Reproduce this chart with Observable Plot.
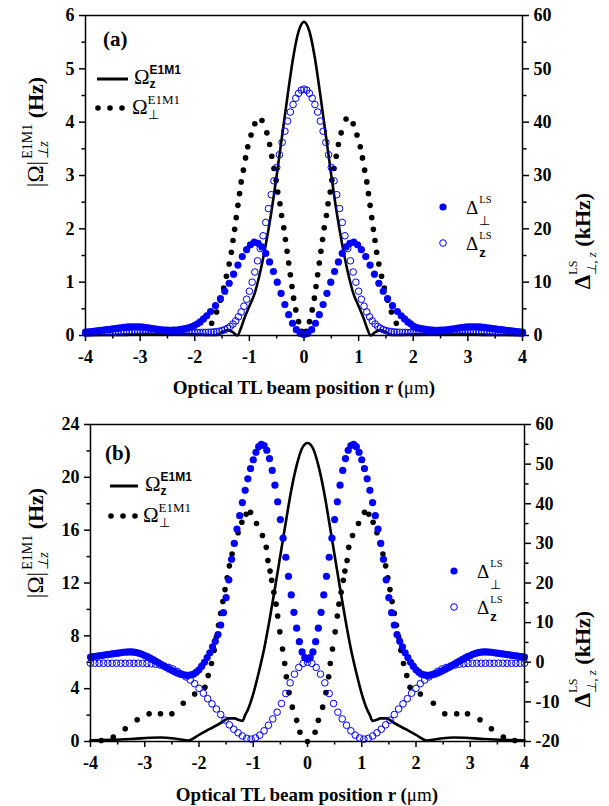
<!DOCTYPE html>
<html><head><meta charset="utf-8">
<script src="https://cdn.jsdelivr.net/npm/d3@7"></script>
<script src="https://cdn.jsdelivr.net/npm/@observablehq/plot@0.6"></script>
<style>
body{margin:0;background:#fff;}
#wrap{position:relative;width:609px;height:806px;overflow:hidden;background:#fff;}
.panel{position:absolute;left:0;}
</style></head><body><div id="wrap"><div id="pa" class="panel" style="top:0"></div><div id="pb" class="panel" style="top:405px"></div></div>
<script>
// ---------------- tick values ----------------
const xTicks = [-4,-3,-2,-1,0,1,2,3,4];
const xMinor = [-3.5,-2.5,-1.5,-0.5,0.5,1.5,2.5,3.5];
const aLeftTicks = [0,1,2,3,4,5,6];
const aLeftMinor = [0.5,1.5,2.5,3.5,4.5,5.5];
const aRightTicks = [0,10,20,30,40,50,60];
const aRightMinor = [5,15,25,35,45,55];
const bLeftTicks = [0,4,8,12,16,20,24];
const bLeftMinor = [2,6,10,14,18,22];
const bRightTicks = [-20,-10,0,10,20,30,40,50,60];
const bRightMinor = [-15,-5,5,15,25,35,45,55];

// ---------------- panel (a) ----------------
// Omega_z^E1M1 (solid line), Hz
const aOmegaZx = [-4,-3.5,-3,-2.5,-2,-1.7,-1.6,-1.5,-1.4,-1.3,-1.22,-1.15,-1.1,-1.0,-0.9,-0.8,-0.7,-0.6,-0.5,-0.4,-0.3,-0.2,-0.1,0,0.1,0.2,0.3,0.4,0.5,0.6,0.7,0.8,0.9,1.0,1.1,1.15,1.22,1.3,1.4,1.5,1.6,1.7,2,2.5,3,3.5,4];
const aOmegaZy = [0.01,0.01,0.02,0.03,0.02,0.01,0.01,0.06,0.1,0.06,0.0,0.15,0.3,0.55,0.8,1.2,1.7,2.3,3.0,3.75,4.5,5.2,5.7,5.88,5.7,5.2,4.5,3.75,3.0,2.3,1.7,1.2,0.8,0.55,0.3,0.15,0.0,0.06,0.1,0.06,0.01,0.01,0.02,0.03,0.02,0.01,0.01];
// Omega_perp^E1M1 (black dots), Hz
const aOmegaPx = [-1.69,-1.6,-1.53,-1.47,-1.42,-1.37,-1.33,-1.3,-1.27,-1.24,-1.21,-1.18,-1.15,-1.11,-1.07,-1.03,-0.97,-0.9,-0.77,-0.68,-0.63,-0.59,-0.55,-0.51,-0.48,-0.44,-0.41,-0.37,-0.34,-0.31,-0.28,-0.25,-0.22,-0.19,-0.15,-0.1,-0.04,
  0.04,0.1,0.15,0.19,0.22,0.25,0.28,0.31,0.34,0.37,0.41,0.44,0.48,0.51,0.55,0.59,0.63,0.68,0.77,0.9,0.97,1.03,1.07,1.11,1.15,1.18,1.21,1.24,1.27,1.3,1.33,1.37,1.42,1.47,1.53,1.6,1.69];
const aOmegaPy = [0.23,0.44,0.66,0.89,1.11,1.34,1.56,1.78,1.99,2.21,2.44,2.66,2.88,3.1,3.33,3.54,3.76,3.97,4.03,3.8,3.58,3.36,3.13,2.91,2.69,2.47,2.25,2.02,1.8,1.58,1.36,1.14,0.92,0.7,0.48,0.26,0.08,
  0.08,0.26,0.48,0.7,0.92,1.14,1.36,1.58,1.8,2.02,2.25,2.47,2.69,2.91,3.13,3.36,3.58,3.8,4.06,3.97,3.76,3.54,3.33,3.1,2.88,2.66,2.44,2.21,1.99,1.78,1.56,1.34,1.11,0.89,0.66,0.44,0.23];
// Delta_perp^LS (blue filled dots), kHz: left tail on 0.05 grid from -4, centre pairs, right tail on 0.05 grid from 2
const aDpTailL = [0.65,0.7,0.75,0.8,0.86,0.92,0.98,1.04,1.1,1.17,1.24,1.31,1.38,1.45,1.51,1.56,1.6,1.63,1.64,1.63,1.6,1.56,1.5,1.43,1.35,1.27,1.19,1.12,1.06,1.02,0.99,0.98,0.99,1.02,1.07,1.14,1.23,1.35,1.5,1.68,1.9];
const aDpCx = [-1.95,-1.9,-1.84,-1.78,-1.71,-1.62,-1.53,-1.45,-1.37,-1.29,-1.21,-1.13,-1.05,-0.98,-0.91,-0.84,-0.77,-0.7,-0.63,-0.56,-0.49,-0.42,-0.35,-0.28,-0.21,-0.14,-0.07,0,0.07,0.14,0.21,0.28,0.35,0.42,0.49,0.56,0.63,0.7,0.77,0.84,0.91,0.98,1.05,1.13,1.21,1.29,1.37,1.45,1.53,1.62,1.71,1.78,1.84,1.9,1.95];
const aDpCy = [2.2,2.55,3.1,3.7,4.5,5.6,6.9,8.3,9.8,11.5,13.2,14.8,16.1,17.0,17.5,17.3,16.6,15.4,13.8,12.0,10.0,7.9,5.8,3.9,2.3,1.1,0.4,0.2,0.4,1.1,2.3,3.9,5.8,7.9,10.0,12.0,13.8,15.4,16.6,17.3,17.5,17.0,16.1,14.8,13.2,11.5,9.8,8.3,6.9,5.6,4.5,3.7,3.1,2.55,2.2];
const aDpTailR = [1.75,1.55,1.4,1.28,1.18,1.1,1.04,1.0,0.98,0.98,0.99,1.02,1.06,1.12,1.19,1.27,1.35,1.43,1.5,1.56,1.6,1.63,1.64,1.63,1.6,1.56,1.51,1.45,1.38,1.31,1.24,1.17,1.1,1.04,0.98,0.92,0.86,0.8,0.75,0.7,0.65];
// Delta_z^LS (blue open circles), kHz on 0.05 grid from -4 to 4
const aDeltaZ = [0.45,0.47,0.5,0.52,0.55,0.58,0.6,0.63,0.66,0.69,0.72,0.75,0.77,0.8,0.83,0.85,0.87,0.9,0.92,0.93,0.95,0.96,0.97,0.97,0.97,0.96,0.95,0.93,0.9,0.87,0.83,0.79,0.75,0.71,0.67,0.63,0.6,0.58,0.56,0.55,0.55,0.55,0.56,0.57,0.58,
  0.6,0.62,0.66,0.72,0.8,0.92,1.1,1.35,1.7,2.15,2.75,3.5,4.4,5.5,6.8,8.3,10.0,11.9,14.0,16.3,18.7,21.2,23.8,26.4,29.0,31.5,33.9,36.2,38.3,40.2,41.9,43.3,44.5,45.4,46.0,46.2,
  46.0,45.4,44.5,43.3,41.9,40.2,38.3,36.2,33.9,31.5,29.0,26.4,23.8,21.2,18.7,16.3,14.0,11.9,10.0,8.3,6.8,5.5,4.4,3.5,2.75,2.15,1.7,1.35,1.1,0.92,0.8,0.72,0.66,0.62,0.6,
  0.58,0.57,0.56,0.55,0.55,0.55,0.56,0.58,0.6,0.63,0.67,0.71,0.75,0.79,0.83,0.87,0.9,0.93,0.95,0.96,0.97,0.97,0.97,0.96,0.95,0.93,0.92,0.9,0.87,0.85,0.83,0.8,0.77,0.75,0.72,0.69,0.66,0.63,0.6,0.58,0.55,0.52,0.5,0.47,0.45];

// ---------------- panel (b) ----------------
const bOmegaZx = [-4,-3.6,-3.2,-2.9,-2.7,-2.5,-2.3,-2.2,-2.0,-1.8,-1.6,-1.45,-1.35,-1.25,-1.2,-1.15,-1.1,-1.0,-0.9,-0.8,-0.7,-0.6,-0.5,-0.4,-0.3,-0.2,-0.1,0,0.1,0.2,0.3,0.4,0.5,0.6,0.7,0.8,0.9,1.0,1.1,1.15,1.2,1.25,1.35,1.45,1.6,1.8,2.0,2.2,2.3,2.5,2.7,2.9,3.2,3.6,4];
const bOmegaZy = [0.1,0.12,0.2,0.28,0.3,0.25,0.12,0.08,0.5,0.95,1.4,1.75,1.75,1.6,1.55,2.0,2.4,3.6,5.2,7.0,9.2,11.6,14.1,16.6,19.0,20.9,22.2,22.6,22.2,20.9,19.0,16.6,14.1,11.6,9.2,7.0,5.2,3.6,2.4,2.0,1.55,1.6,1.75,1.75,1.4,0.95,0.5,0.08,0.12,0.25,0.3,0.28,0.2,0.12,0.1];
const bOmegaPx = [-3.8,-3.58,-3.36,-3.14,-2.92,-2.71,-2.5,-2.29,-2.08,-1.89,-1.83,-1.77,-1.72,-1.68,-1.64,-1.6,-1.56,-1.52,-1.48,-1.44,-1.39,-1.34,-1.28,-1.21,-1.13,-1.05,-0.94,-0.83,-0.76,-0.73,-0.69,-0.66,-0.62,-0.58,-0.55,-0.51,-0.46,-0.42,-0.39,-0.34,-0.28,-0.2,-0.14,
  0,
  0.14,0.2,0.28,0.34,0.39,0.42,0.46,0.51,0.55,0.58,0.62,0.66,0.69,0.73,0.76,0.83,0.94,1.05,1.13,1.21,1.28,1.34,1.39,1.44,1.48,1.52,1.56,1.6,1.64,1.68,1.72,1.77,1.83,1.89,2.08,2.32,2.53,2.75,2.95,3.18,3.39,3.61,3.82];
const bOmegaPy = [0.08,0.33,0.96,1.65,2.1,2.1,2.1,2.9,3.6,4.1,5.0,5.9,6.9,7.9,8.8,9.7,10.6,11.5,12.4,13.3,14.2,15.0,15.8,16.6,17.2,17.35,16.5,15.6,14.7,13.7,12.9,12.2,11.3,10.4,9.5,8.3,7.0,5.9,4.9,3.7,2.6,1.6,0.7,
  0,
  0.7,1.6,2.6,3.7,4.9,5.9,7.0,8.3,9.5,10.4,11.3,12.2,12.9,13.7,14.7,15.6,16.5,17.35,17.2,16.6,15.8,15.0,14.2,13.3,12.4,11.5,10.6,9.7,8.8,7.9,6.9,5.9,5.0,4.1,3.6,2.9,2.1,2.1,2.1,1.65,0.96,0.33,0.08];
// Delta_perp^LS (blue filled), kHz on 0.05 grid from -4 to 4
const bDeltaPerp = [1.3,1.4,1.5,1.6,1.7,1.8,1.9,2.0,2.1,2.2,2.3,2.4,2.5,2.55,2.6,2.6,2.55,2.45,2.25,2.0,1.7,1.4,1.05,0.7,0.3,-0.1,-0.5,-0.9,-1.3,-1.7,-2.05,-2.4,-2.7,-2.95,-3.15,-3.25,-3.3,-3.2,-3.0,-2.5,-1.9,
  -1.0,0.0,1.2,2.4,3.9,5.3,7.0,9.4,12.5,16.3,20.8,26.0,30.0,33.6,37.0,40.3,43.4,46.3,48.9,51.1,53.0,54.4,55.0,54.7,53.5,51.4,48.4,44.7,40.5,36.0,31.3,26.5,21.7,17.0,12.6,8.6,5.2,2.6,1.2,
  0.8,
  1.2,2.6,5.2,8.6,12.6,17.0,21.7,26.5,31.3,36.0,40.5,44.7,48.4,51.4,53.5,54.7,55.0,54.4,53.0,51.1,48.9,46.3,43.4,40.3,37.0,33.6,30.0,26.0,20.8,16.3,12.5,9.4,7.0,5.3,3.9,2.4,1.2,0.0,-1.0,
  -1.9,-2.5,-3.0,-3.2,-3.3,-3.25,-3.15,-2.95,-2.7,-2.4,-2.05,-1.7,-1.3,-0.9,-0.5,-0.1,0.3,0.7,1.05,1.4,1.7,2.0,2.25,2.45,2.55,2.6,2.6,2.55,2.5,2.4,2.3,2.2,2.1,2.0,1.9,1.8,1.7,1.6,1.5,1.4,1.3];
// Delta_z^LS (blue open), kHz on 0.08 grid from -4 to 4
const bDeltaZ = [-0.25,-0.25,-0.25,-0.25,-0.25,-0.25,-0.25,-0.25,-0.25,-0.25,-0.25,-0.25,-0.27,-0.3,-0.4,-0.5,-0.7,-1.0,-1.3,-1.7,-2.3,-3.0,-3.7,-4.5,-5.4,-6.6,-7.8,-9.2,-10.5,-11.8,-13.2,-14.6,-15.8,-16.9,-17.8,-18.6,-19.2,-19.4,-19.1,-18.4,-17.3,-15.9,-14.3,-12.6,-10.4,-7.9,-5.2,-3.0,-1.3,-0.3,
  0.0,
  -0.3,-1.3,-3.0,-5.2,-7.9,-10.4,-12.6,-14.3,-15.9,-17.3,-18.4,-19.1,-19.4,-19.2,-18.6,-17.8,-16.9,-15.8,-14.6,-13.2,-11.8,-10.5,-9.2,-7.8,-6.6,-5.4,-4.5,-3.7,-3.0,-2.3,-1.7,-1.3,-1.0,-0.7,-0.5,-0.4,-0.3,-0.27,-0.25,-0.25,-0.25,-0.25,-0.25,-0.25,-0.25,-0.25,-0.25,-0.25,-0.25,-0.25];

// ---------------- helpers ----------------
const SERIF = "'Liberation Serif','Times New Roman',serif";
const SANS = "'Liberation Sans',Arial,sans-serif";
const BLUE = "#0000ff";
const grid = (vals, start, step) => vals.map((_, i) => +(start + i * step).toFixed(3));

function makePanel(c) {
  const toL = c.toLeft;
  const ax = {strokeWidth: 1.5, label: null};
  return Plot.plot({
    width: 609, height: c.height,
    marginTop: c.mt, marginBottom: c.mb, marginLeft: c.ml, marginRight: c.mr,
    x: {domain: [-4, 4]},
    y: {domain: c.yDomain},
    style: {fontFamily: SERIF, fontSize: "18px", fontWeight: "bold", background: "white", overflow: "visible"},
    marks: [
      Plot.axisX({...ax, ticks: xTicks, tickSize: 6, tickPadding: 9, tickFormat: d => String(d)}),
      Plot.axisX({...ax, ticks: xMinor, tickSize: 3.5, tickFormat: () => ""}),
      Plot.axisY({...ax, anchor: "left", ticks: c.leftTicks, tickSize: 6, tickPadding: 5, tickFormat: d => String(d)}),
      Plot.axisY({...ax, anchor: "left", ticks: c.leftMinor, tickSize: 3.5, tickFormat: () => ""}),
      Plot.axisY({...ax, anchor: "right", ticks: c.rightTicks.map(toL), tickSize: 6, tickPadding: 5, tickFormat: d => String(Math.round(c.fromLeft(d)))}),
      Plot.axisY({...ax, anchor: "right", ticks: c.rightMinor.map(toL), tickSize: 3.5, tickFormat: () => ""}),
      Plot.line(c.lineX, {x: c.lineX, y: c.lineY, stroke: "black", strokeWidth: 2.6, curve: "monotone-x"}),
      Plot.dot(c.perpX, {x: c.perpX, y: c.perpY, r: 2.8, fill: "black"}),
      Plot.dot(c.dpX, {x: c.dpX, y: c.dpY.map(toL), r: 3.6, fill: BLUE}),
      Plot.dot(c.dzX, {x: c.dzX, y: c.dzY.map(toL), r: 3.3, stroke: BLUE, strokeWidth: 1, fill: "none"}),
      Plot.frame({stroke: "black", strokeWidth: 1.5})
    ]
  });
}

function rich(sel, x, y, parts, opt = {}) {
  const t = sel.append("text").attr("x", x).attr("y", y)
    .attr("text-anchor", opt.anchor || "start").attr("fill", "black");
  if (opt.rotate) t.attr("transform", `rotate(${opt.rotate},${x},${y})`);
  let cur = 0, prev = 0, pending = 0;
  for (const p of parts) {
    const s = t.append("tspan").text(p.t)
      .attr("font-family", p.f || SERIF).attr("font-size", p.s || 20)
      .attr("font-weight", p.w || "normal").attr("font-style", p.i ? "italic" : "normal");
    const target = p.dy || 0;
    if (target - cur) s.attr("dy", target - cur);
    cur = target;
    let dx = p.back ? -prev : pending;
    if (p.dx) dx += p.dx;
    if (dx) s.attr("dx", dx);
    const len = s.node().getComputedTextLength();
    pending = p.back ? Math.max(0, prev - len) : 0;
    prev = len;
  }
  return t;
}

function legendBlock(g, o) {
  // solid line entry
  g.append("line").attr("x1", o.lx1).attr("x2", o.lx2).attr("y1", o.ly1).attr("y2", o.ly1)
    .attr("stroke", "black").attr("stroke-width", 3);
  rich(g, o.tx, o.ly1 + 5, [{t: "Ω", s: 21}, {t: "E1M1", f: SANS, s: 12, w: "bold", dy: -10}, {t: "z", f: SANS, s: 12, w: "bold", dy: 4, back: true}]);
  // dotted entry
  for (const dxp of [0, 12, 24]) g.append("circle").attr("cx", o.lx1 + 1 + dxp).attr("cy", o.ly2).attr("r", 2.8).attr("fill", "black");
  rich(g, o.tx - 2, o.ly2 + 6, [{t: "Ω", s: 21}, {t: "E1M1", s: 13, dy: -10}, {t: "⊥", s: 12.5, dy: 5, back: true}]);
  // blue entries
  g.append("circle").attr("cx", o.bx).attr("cy", o.by1).attr("r", 3.6).attr("fill", BLUE);
  rich(g, o.bx + 23, o.by1 + 7, [{t: "Δ", s: 19}, {t: "LS", s: 10.5, dy: -11, dx: 1}, {t: "⊥", s: 13, dy: 11, back: true}]);
  g.append("circle").attr("cx", o.bx).attr("cy", o.by2).attr("r", 3.3).attr("fill", "none").attr("stroke", BLUE).attr("stroke-width", 1);
  rich(g, o.bx + 23, o.by2 + 7, [{t: "Δ", s: 19}, {t: "LS", s: 10.5, dy: -11, dx: 1}, {t: "z", f: SANS, s: 13, w: "bold", dy: 7, back: true}]);
}

function titles(g, o) {
  rich(g, o.panelX, o.panelY, [{t: o.panel, s: 21, w: "bold"}]);
  rich(g, o.xtX, o.xtY, [{t: "Optical TL beam position r (", s: 19, w: "bold"}, {t: "μm", s: 19}, {t: ")", s: 19, w: "bold"}], {anchor: "middle"});
  rich(g, o.ltX, o.ltY, [{t: "|Ω|", s: 23}, {t: "E1M1", s: 14, dy: -11, dx: 2}, {t: "⊥z", s: 14, i: true, dy: 5, back: true}, {t: " (Hz)", s: 22, w: "bold"}], {anchor: "middle", rotate: -90});
  rich(g, o.rtX, o.rtY, [{t: "Δ", s: 23, w: "bold"}, {t: "LS", s: 12, dy: -13}, {t: "⊥, z", s: 13, i: true, dy: 6, back: true}, {t: " (kHz)", s: 22, w: "bold"}], {anchor: "middle", rotate: -90});
}

// ---------------- build ----------------
const aDpX = [...grid(aDpTailL, -4, 0.05), ...aDpCx, ...grid(aDpTailR, 2, 0.05)];
const aDpY = [...aDpTailL, ...aDpCy, ...aDpTailR];

const svgA = makePanel({
  height: 405, mt: 15, mb: 70, ml: 85, mr: 87,
  yDomain: [0, 6], leftTicks: aLeftTicks, leftMinor: aLeftMinor,
  rightTicks: aRightTicks, rightMinor: aRightMinor,
  toLeft: v => v / 10, fromLeft: v => v * 10,
  lineX: aOmegaZx, lineY: aOmegaZy, perpX: aOmegaPx, perpY: aOmegaPy,
  dpX: aDpX, dpY: aDpY, dzX: grid(aDeltaZ, -4, 0.05), dzY: aDeltaZ
});
document.getElementById("pa").appendChild(svgA);

const svgB = makePanel({
  height: 401, mt: 19, mb: 65, ml: 90, mr: 85,
  yDomain: [0, 24], leftTicks: bLeftTicks, leftMinor: bLeftMinor,
  rightTicks: bRightTicks, rightMinor: bRightMinor,
  toLeft: v => (v + 20) * 0.3, fromLeft: v => v / 0.3 - 20,
  lineX: bOmegaZx, lineY: bOmegaZy, perpX: bOmegaPx, perpY: bOmegaPy,
  dpX: grid(bDeltaPerp, -4, 0.05), dpY: bDeltaPerp, dzX: grid(bDeltaZ, -4, 0.08), dzY: bDeltaZ
});
document.getElementById("pb").appendChild(svgB);

const gA = d3.select(svgA).append("g");
legendBlock(gA, {lx1: 97, lx2: 128, ly1: 79, ly2: 108, tx: 134, bx: 443, by1: 207, by2: 243});
titles(gA, {panel: "(a)", panelX: 103, panelY: 46, xtX: 304, xtY: 394, ltX: 43, ltY: 132, rtX: 590, rtY: 241});

const gB = d3.select(svgB).append("g");
legendBlock(gB, {lx1: 110, lx2: 138, ly1: 81, ly2: 111, tx: 145, bx: 454, by1: 166, by2: 202});
titles(gB, {panel: "(b)", panelX: 105, panelY: 55, xtX: 307, xtY: 396, ltX: 43, ltY: 138, rtX: 590, rtY: 254});
</script>
</body></html>
